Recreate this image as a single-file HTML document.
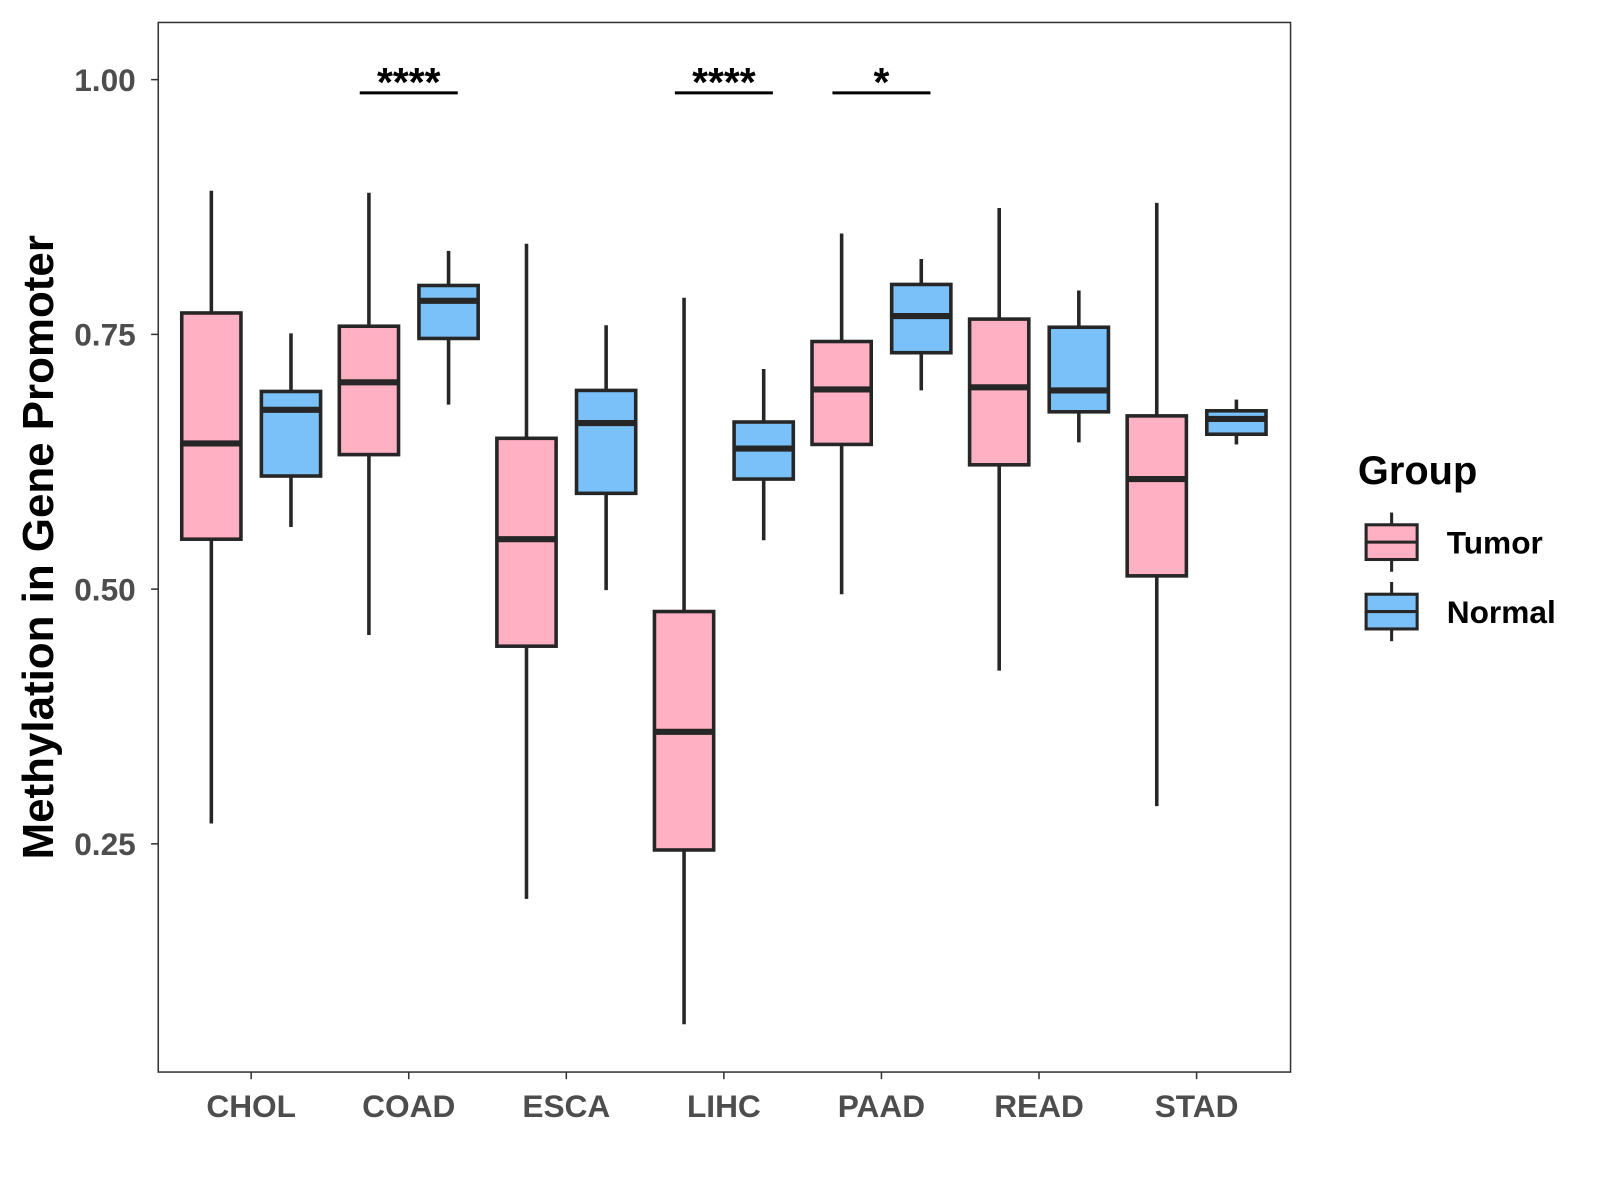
<!DOCTYPE html>
<html><head><meta charset="utf-8"><style>body{margin:0;background:#fff}svg{display:block}</style></head>
<body>
<svg width="1600" height="1200" xmlns="http://www.w3.org/2000/svg" font-family="Liberation Sans, sans-serif"><g id="chart" transform="scale(1.021)"></g></svg>
<script>
const categories=["CHOL","COAD","ESCA","LIHC","PAAD","READ","STAD"];
// [whiskerHigh, q3, median, q1, whiskerLow]
const tumorStats=[[0.891,0.771,0.643,0.549,0.270],[0.889,0.758,0.703,0.632,0.455],[0.839,0.648,0.549,0.444,0.196],[0.786,0.478,0.360,0.244,0.073],[0.849,0.743,0.696,0.642,0.495],[0.874,0.765,0.698,0.622,0.420],[0.879,0.670,0.608,0.513,0.287]];
const normalStats=[[0.751,0.694,0.676,0.611,0.561],[0.832,0.798,0.783,0.746,0.681],[0.759,0.695,0.663,0.594,0.499],[0.716,0.664,0.638,0.608,0.548],[0.824,0.799,0.768,0.732,0.695],[0.793,0.757,0.695,0.674,0.644],[0.686,0.675,0.667,0.652,0.642]];
const yTicks=[0.25,0.50,0.75,1.00];
const yTickLabels=["0.25","0.50","0.75","1.00"];
const sigCats=["COAD","LIHC","PAAD"];
const sigLabels=["****","****","*"];
const sigLevel=0.987;

const svg=document.getElementById('chart');
const NS='http://www.w3.org/2000/svg';
const L=155,R=1264,T=22,B=1050;
const y=v=>78+(1-v)*998;
const x=i=>246+i*154.33;
function mk(tag,attrs,parent){const e=document.createElementNS(NS,tag);for(const k in attrs)e.setAttribute(k,attrs[k]);(parent||svg).appendChild(e);return e;}

const panel=mk('rect',{x:L,y:T,width:R-L,height:B-T,fill:'none',stroke:'#333','stroke-width':1.5});



yTicks.forEach((v,i)=>{
  const t=mk('line',{x1:L-7,x2:L,y1:y(v),y2:y(v),stroke:'#333','stroke-width':1.5});
  
  
  const tx=mk('text',{x:L-22,y:y(v)+11,'text-anchor':'end','font-size':31,'font-weight':'bold',fill:'#4d4d4d'});
  tx.textContent=yTickLabels[i];
  
  
});
categories.forEach((c,i)=>{
  const t=mk('line',{x1:x(i),x2:x(i),y1:B,y2:B+7,stroke:'#333','stroke-width':1.5});
  
  
  const tx=mk('text',{x:x(i),y:B+44,'text-anchor':'middle','font-size':31,'font-weight':'bold',fill:'#4d4d4d'});
  tx.textContent=c;
  
  
});

function box(cx,s,fill,name){
  const g=mk('g',{});
  
  
  const w=58;
  mk('line',{x1:cx,x2:cx,y1:y(s[0]),y2:y(s[4]),stroke:'#262626','stroke-width':3.5},g);
  mk('rect',{x:cx-w/2,y:y(s[1]),width:w,height:y(s[3])-y(s[1]),fill:fill,stroke:'#262626','stroke-width':3.5},g);
  mk('line',{x1:cx-w/2,x2:cx+w/2,y1:y(s[2]),y2:y(s[2]),stroke:'#262626','stroke-width':6},g);
}
categories.forEach((c,i)=>{
  box(x(i)-39,tumorStats[i],'#FFB0C3','box-tumor-'+c.toLowerCase());
  box(x(i)+39,normalStats[i],'#79C1F8','box-normal-'+c.toLowerCase());
});
sigCats.forEach((c,k)=>{
  const i=categories.indexOf(c);
  const ln=mk('line',{x1:x(i)-48,x2:x(i)+48,y1:y(sigLevel),y2:y(sigLevel),stroke:'#000','stroke-width':3});
  
  
  const tx=mk('text',{x:x(i),y:y(sigLevel)+3,'text-anchor':'middle','font-size':40,'font-weight':'bold',fill:'#000'});
  tx.textContent=sigLabels[k];
  
  
});
const yt=mk('text',{x:0,y:0,transform:'translate(52,536) rotate(-90)','text-anchor':'middle','font-size':43,'font-weight':'bold',fill:'#000'});
yt.textContent='Methylation in Gene Promoter';



const lt=mk('text',{x:1330,y:474,'font-size':39,'font-weight':'bold',fill:'#000'});
lt.textContent='Group';


[['Tumor','#FFB0C3',531],['Normal','#79C1F8',599]].forEach(([lab,col,cy])=>{
  const g=mk('g',{});
  
  
  mk('line',{x1:1363,x2:1363,y1:cy-29,y2:cy+29,stroke:'#262626','stroke-width':3},g);
  mk('rect',{x:1338,y:cy-17,width:50,height:34,fill:col,stroke:'#262626','stroke-width':3},g);
  mk('line',{x1:1338,x2:1388,y1:cy,y2:cy,stroke:'#262626','stroke-width':3},g);
  const t=mk('text',{x:1417,y:cy+11,'font-size':31,'font-weight':'bold',fill:'#000'},g);
  t.textContent=lab;
});
</script>
</body></html>
